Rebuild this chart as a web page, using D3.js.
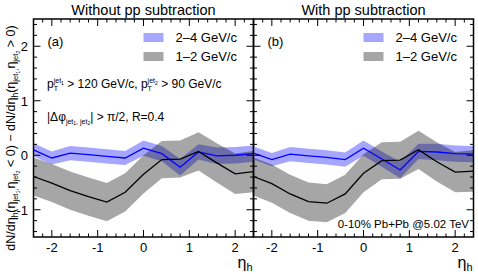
<!DOCTYPE html>
<html lang="en">
<meta charset="utf-8">
<head>
  <script src="https://d3js.org/d3.v7.min.js"></script>
</head>
<body>
  <div id="my_dataviz"></div>
  <script>
    // eta_h bin positions
    var etaBins = [-2.4, -2.0, -1.6, -1.2, -0.8, -0.4, 0.0, 0.4, 0.8, 1.2, 1.6, 2.0, 2.4];

    // (a) without pp subtraction
    var leftHigh    = [0.10, -0.05, 0.04, 0.01, -0.02, -0.05, 0.13, 0.03, -0.22, 0.06, -0.01, 0.00, 0.03];
    var leftHighErr = [0.12, 0.12, 0.13, 0.13, 0.13, 0.13, 0.14, 0.14, 0.15, 0.14, 0.15, 0.15, 0.15];
    var leftLow     = [-0.39, -0.51, -0.65, -0.76, -0.86, -0.68, -0.35, -0.08, -0.07, 0.07, -0.14, -0.34, -0.30];
    var leftLowErr  = [0.35, 0.35, 0.35, 0.35, 0.35, 0.35, 0.35, 0.34, 0.34, 0.35, 0.36, 0.37, 0.38];

    // (b) with pp subtraction
    var rightHigh    = [0.04, -0.08, 0.02, -0.01, -0.04, -0.08, 0.13, -0.07, -0.27, 0.07, 0.06, 0.03, 0.02];
    var rightHighErr = [0.12, 0.12, 0.13, 0.13, 0.13, 0.13, 0.14, 0.14, 0.15, 0.14, 0.15, 0.15, 0.15];
    var rightLow     = [-0.39, -0.52, -0.71, -0.85, -0.88, -0.71, -0.33, -0.10, -0.09, 0.10, -0.12, -0.31, -0.29];
    var rightLowErr  = [0.35, 0.35, 0.35, 0.35, 0.35, 0.35, 0.35, 0.34, 0.34, 0.35, 0.36, 0.37, 0.38];

    var titles = ["Without pp subtraction", "With pp subtraction"];
    var panelTags = ["(a)", "(b)"];
    var legendLabels = ["2\u20134 GeV/c", "1\u20132 GeV/c"];
    var xTicks = [-2, -1, 0, 1, 2];
    var yTicks = [-1, 0, 1, 2];

    var W = 478, H = 274;
    var plotTop = 19, plotBottom = 237, panelW = 220;
    var panelX = [33.5, 253.5];

    var svg = d3.select("#my_dataviz")
      .append("svg")
      .attr("width", W)
      .attr("height", H)
      .style("font-family", "'Liberation Sans', Arial, sans-serif");

    svg.append("rect").attr("width", W).attr("height", H).attr("fill", "white");

    var y = d3.scaleLinear().domain([-1.5, 2.5]).range([plotBottom, plotTop]);

    var blueFill = "#a6a6ff";
    var grayFill = "rgba(0,0,0,0.35)";

    var panels = [
      { high: leftHigh, highErr: leftHighErr, low: leftLow, lowErr: leftLowErr },
      { high: rightHigh, highErr: rightHighErr, low: rightLow, lowErr: rightLowErr }
    ];

    var minorX = d3.range(-2.4, 2.41, 0.2).map(function (d) { return +d.toFixed(1); });
    var minorY = d3.range(-1.4, 2.41, 0.2).map(function (d) { return +d.toFixed(1); });

    panels.forEach(function (p, i) {
      var x0 = panelX[i];
      var x = d3.scaleLinear().domain([-2.4, 2.4]).range([x0, x0 + panelW]);
      var g = svg.append("g");

      var band = d3.area()
        .x(function (d, k) { return x(etaBins[k]); })
        .y0(function (d) { return y(d[0] - d[1]); })
        .y1(function (d) { return y(d[0] + d[1]); });
      var line = d3.line()
        .x(function (d, k) { return x(etaBins[k]); })
        .y(function (d) { return y(d); });

      var highPairs = p.high.map(function (v, k) { return [v, p.highErr[k]]; });
      var lowPairs = p.low.map(function (v, k) { return [v, p.lowErr[k]]; });

      g.append("path").attr("d", band(highPairs)).attr("fill", blueFill);
      g.append("path").attr("d", band(lowPairs)).attr("fill", grayFill);
      g.append("path").attr("d", line(p.high)).attr("fill", "none").attr("stroke", "#0000ff").attr("stroke-width", 1.3);
      g.append("path").attr("d", line(p.low)).attr("fill", "none").attr("stroke", "black").attr("stroke-width", 1.3);

      // ticks, all pointing inward
      var tk = g.append("g").attr("stroke", "black").attr("stroke-width", 1);
      minorX.forEach(function (v) {
        var len = (Math.abs(v - Math.round(v)) < 1e-6) ? 7 : 3.5;
        tk.append("line").attr("x1", x(v)).attr("x2", x(v)).attr("y1", plotBottom).attr("y2", plotBottom - len);
        tk.append("line").attr("x1", x(v)).attr("x2", x(v)).attr("y1", plotTop).attr("y2", plotTop + len);
      });
      minorY.forEach(function (v) {
        var len = (Math.abs(v - Math.round(v)) < 1e-6) ? 7 : 3.5;
        tk.append("line").attr("x1", x0).attr("x2", x0 + len).attr("y1", y(v)).attr("y2", y(v));
        tk.append("line").attr("x1", x0 + panelW).attr("x2", x0 + panelW - len).attr("y1", y(v)).attr("y2", y(v));
      });

      // frame
      g.append("rect")
        .attr("x", x0).attr("y", plotTop)
        .attr("width", panelW).attr("height", plotBottom - plotTop)
        .attr("fill", "none").attr("stroke", "black").attr("stroke-width", 1.5);

      // x tick labels
      g.selectAll(".xl").data(xTicks).enter().append("text")
        .attr("x", function (d) { return x(d); })
        .attr("y", 252)
        .attr("text-anchor", "middle")
        .attr("font-size", 13)
        .text(function (d) { return d < 0 ? "-" + Math.abs(d) : d; });

      // x axis title
      var xt = g.append("text").attr("x", x0 + panelW - 16).attr("y", 268).attr("font-size", 16);
      xt.append("tspan").text("\u03b7");
      xt.append("tspan").attr("font-size", 11).attr("dy", 3).text("h");

      // title
      g.append("text")
        .attr("x", x0 + panelW / 2).attr("y", 15)
        .attr("text-anchor", "middle").attr("font-size", 14.5)
        .text(titles[i]);

      // panel tag
      g.append("text").attr("x", x0 + 14).attr("y", 46).attr("font-size", 13).text(panelTags[i]);

      // legend
      var lx = x0 + 110;
      [blueFill, grayFill].forEach(function (c, k) {
        g.append("rect").attr("x", lx).attr("y", 33 + k * 19).attr("width", 20).attr("height", 9).attr("fill", c);
        g.append("text").attr("x", lx + 32).attr("y", 42 + k * 19).attr("font-size", 13).text(legendLabels[k]);
      });
    });

    // y tick labels
    svg.selectAll(".yl").data(yTicks).enter().append("text")
      .attr("x", 28)
      .attr("y", function (d) { return y(d) + 5; })
      .attr("text-anchor", "end")
      .attr("font-size", 13)
      .text(function (d) { return d < 0 ? "-" + Math.abs(d) : d; });

    // lays out pieces of text one after another; a piece with back:true
    // starts again at the last mark (stacked sub/superscripts)
    function richText(parent, x, y, pieces) {
      var cur = x, mark = x, far = x;
      pieces.forEach(function (pc) {
        if (pc.mark) { mark = cur; far = cur; }
        if (pc.back) { far = Math.max(far, cur); cur = mark; }
        var t = parent.append("text")
          .attr("x", cur).attr("y", y + (pc.off || 0))
          .attr("font-size", pc.s)
          .style("white-space", "pre")
          .text(pc.t);
        cur += t.node().getComputedTextLength();
        if (pc.end) { cur = Math.max(cur, far); }
      });
      return cur - x;
    }

    function ptPieces(num) {
      return [
        { t: "p", s: 12 },
        { t: "jet", s: 7, off: -5 },
        { t: num, s: 5, off: -3, mark: false },
        { t: "T", s: 7, off: 2.5 }
      ];
    }
    // stack the T under "jet": mark before "jet", go back for "T"
    function ptStacked(num) {
      var pcs = ptPieces(num);
      pcs[1].mark = true;
      pcs[3].back = true;
      pcs[3].end = true;
      return pcs;
    }

    // cut annotations in panel (a)
    var ann = svg.append("g");
    richText(ann, 47, 88, []
      .concat(ptStacked("1"))
      .concat([{ t: " > 120 GeV/c, ", s: 12 }])
      .concat(ptStacked("2"))
      .concat([{ t: " > 90 GeV/c", s: 12 }]));

    richText(ann, 47, 121, [
      { t: "|\u0394\u03c6", s: 12 },
      { t: "jet", s: 7, off: 2.5 },
      { t: "1", s: 5, off: 4 },
      { t: ", jet", s: 7, off: 2.5 },
      { t: "2", s: 5, off: 4 },
      { t: "| > \u03c0/2, R=0.4", s: 12 }
    ]);

    // system label in panel (b)
    svg.append("text").attr("x", 469).attr("y", 228).attr("text-anchor", "end")
      .attr("font-size", 11.5).text("0-10% Pb+Pb @5.02 TeV");

    // y axis title, rotated and centred
    function etaJetPieces() {
      return [
        { t: "(\u03b7", s: 12.5 },
        { t: "jet", s: 7.5, off: 3 },
        { t: "1", s: 5.5, off: 4.5 },
        { t: ",", s: 7.5, off: 3 },
        { t: "\u03b7", s: 12.5 },
        { t: "jet", s: 7.5, off: 3 },
        { t: "2", s: 5.5, off: 4.5 }
      ];
    }
    var ytG = svg.append("g");
    var ytInner = ytG.append("g");
    var ytW = richText(ytInner, 0, 0, []
      .concat([{ t: "dN/d\u03b7", s: 12.5 }, { t: "h", s: 8.5, off: 3 }])
      .concat(etaJetPieces())
      .concat([{ t: " < 0) \u2212 dN/d\u03b7", s: 12.5 }, { t: "h", s: 8.5, off: 3 }])
      .concat(etaJetPieces())
      .concat([{ t: " > 0)", s: 12.5 }]));
    ytInner.attr("transform", "translate(" + (-ytW / 2) + ",0)");
    ytG.attr("transform", "translate(15,138) rotate(-90)");
  </script>
  <style>
    body { margin: 0; background: white; }
  </style>
</body>
</html>
